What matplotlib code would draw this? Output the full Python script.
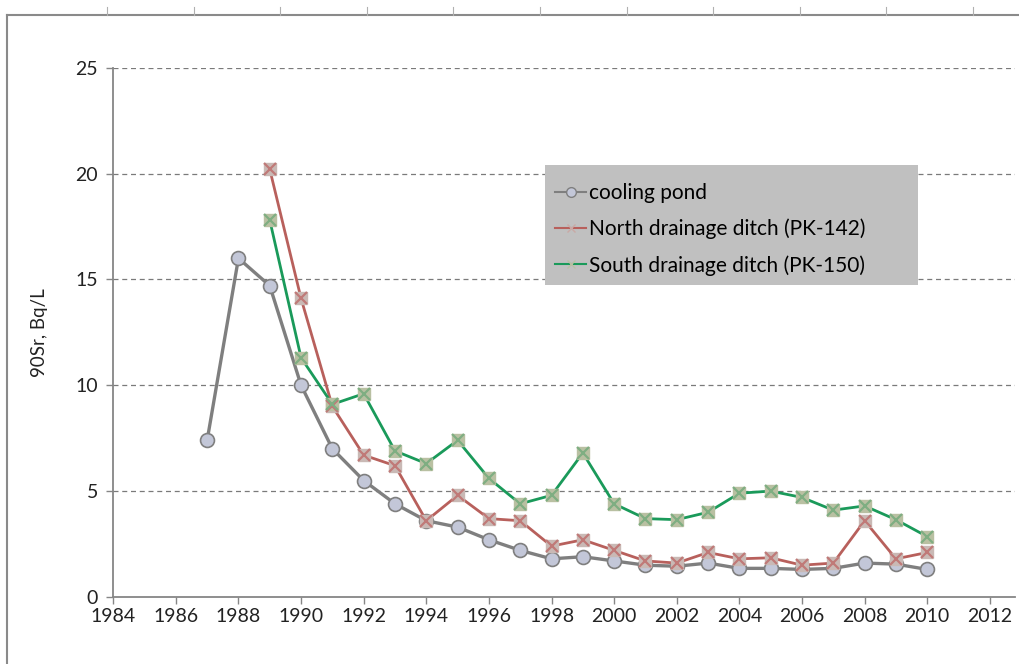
import matplotlib
matplotlib.use('Agg')
import matplotlib.pyplot as plt
from matplotlib.lines import Line2D
from matplotlib.patches import Rectangle

# ── Data ──────────────────────────────────────────────────────────────────────

years_pond = list(range(1987, 2011))
pond = [7.4, 16.0, 14.7, 10.0, 7.0, 5.5, 4.4, 3.6, 3.3, 2.7, 2.2, 1.8,
        1.9, 1.7, 1.5, 1.45, 1.6, 1.35, 1.35, 1.3, 1.35, 1.6, 1.55, 1.3]

years_ditch = list(range(1989, 2011))
north = [20.2, 14.1, 9.0, 6.7, 6.2, 3.6, 4.8, 3.7, 3.6, 2.4, 2.7, 2.2,
         1.7, 1.6, 2.1, 1.8, 1.85, 1.5, 1.6, 3.6, 1.8, 2.1]
south = [17.8, 11.3, 9.1, 9.6, 6.9, 6.3, 7.4, 5.6, 4.4, 4.8, 6.8, 4.4,
         3.7, 3.65, 4.0, 4.9, 5.0, 4.7, 4.1, 4.3, 3.65, 2.85]

labels = ['cooling pond', 'North drainage ditch (PK-142)', 'South drainage ditch (PK-150)']
xticks = list(range(1984, 2013, 2))
yticks = [0, 5, 10, 15, 20, 25]

# ── Plot ──────────────────────────────────────────────────────────────────────

plt.rcParams['font.family'] = ['Lato', 'DejaVu Sans']

fig = plt.figure(figsize=(10.2, 6.64), dpi=100)
ax = fig.add_axes([0.111, 0.101, 0.884, 0.797])

AXIS_GREY = '#868686'

ax.plot(years_pond, pond, color='#7f7f7f', linewidth=2.4, marker='o',
        markersize=10, markerfacecolor='#c3c7d8', markeredgecolor='#7f7f7f',
        markeredgewidth=1.2, zorder=3)

ax.plot(years_ditch, north, color='#b8605c', linewidth=2.0, zorder=4)
ax.plot(years_ditch, north, linestyle='none', marker='s', markersize=9,
        markerfacecolor='#c9b9b5', markeredgecolor='#c9b9b5', zorder=5)
ax.plot(years_ditch, north, linestyle='none', marker='x', markersize=9,
        markeredgecolor='#c07a78', markeredgewidth=1.6, zorder=6)

ax.plot(years_ditch, south, color='#1a9a5a', linewidth=2.0, zorder=4)
ax.plot(years_ditch, south, linestyle='none', marker='s', markersize=9,
        markerfacecolor='#b9c0a2', markeredgecolor='#b9c0a2', zorder=5)
ax.plot(years_ditch, south, linestyle='none', marker='x', markersize=9,
        markeredgecolor='#7fae82', markeredgewidth=1.6, zorder=6)

ax.set_xlim(1984, 2012.8)
ax.set_ylim(0, 25)
ax.set_xticks(xticks)
ax.set_yticks(yticks)
ax.tick_params(axis='both', labelsize=14, colors=AXIS_GREY, labelcolor='#222222',
               direction='out', length=5, width=1)
ax.tick_params(axis='x', pad=3)
ax.tick_params(axis='y', pad=6)

for y in yticks[1:]:
    ax.axhline(y, color='#7a7a7a', linestyle=(0, (4, 3)), linewidth=0.9, zorder=1)

for side in ['top', 'right']:
    ax.spines[side].set_visible(False)
for side in ['left', 'bottom']:
    ax.spines[side].set_color(AXIS_GREY)
    ax.spines[side].set_linewidth(1.3)

ax.set_ylabel('90Sr, Bq/L', fontsize=13.5, color='#222222', labelpad=20)

# Legend: grey box drawn separately, entries on top
ax.add_patch(Rectangle((0.479, 0.590), 0.414, 0.226, transform=ax.transAxes,
                       facecolor='#c0c0c0', edgecolor='none', zorder=2))
handles = [
    Line2D([], [], color='#7f7f7f', linewidth=1.5, marker='o', markersize=7,
           markerfacecolor='#c3c7d8', markeredgecolor='#7f7f7f'),
    Line2D([], [], color='#b8605c', linewidth=1.5, marker='x', markersize=6,
           markeredgecolor='#c9a9a5'),
    Line2D([], [], color='#1a9a5a', linewidth=1.5, marker='x', markersize=6,
           markeredgecolor='#b9c0a2'),
]
leg = ax.legend(handles, labels, loc='upper left', bbox_to_anchor=(0.490, 0.782),
                fontsize=15, frameon=False, handlelength=1.5,
                handletextpad=0.15, borderpad=0, labelspacing=0.75,
                borderaxespad=0)
leg.set_zorder(7)

# Spreadsheet frame around the chart (screenshot edge)
fig.add_artist(Line2D([0.007, 1.0], [0.977, 0.977], color='#8a8a8a', linewidth=1.5))
fig.add_artist(Line2D([0.007, 0.007], [0.0, 0.977], color='#8a8a8a', linewidth=1.5))
for k in range(11):
    xf = (107 + 86.6 * k) / 1020
    fig.add_artist(Line2D([xf, xf], [0.977, 0.99], color='#b0b0b0', linewidth=0.8))

fig.savefig('out.png', dpi=100)
plt.close(fig)
